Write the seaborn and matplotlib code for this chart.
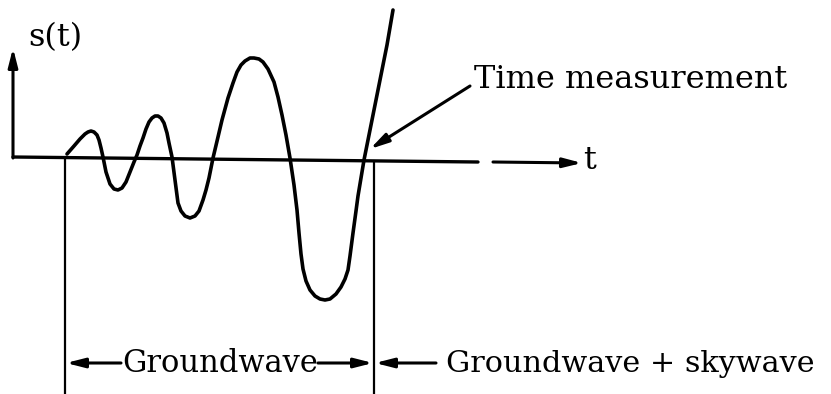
import numpy as np
import pandas as pd
import matplotlib
matplotlib.use('Agg')
import matplotlib.pyplot as plt
import seaborn as sns

# waveform s(t) (pixel units, y grows downward)
wave_x = [67, 74, 80, 85, 88, 91, 94, 97, 99, 101, 103, 106, 110, 114, 118, 122, 126, 130, 134, 137,
          140, 143, 146, 149, 152, 155, 158, 161, 164, 167, 169, 172, 175, 178, 181, 185, 190, 195, 199,
          203, 206, 209, 213, 218, 222, 228, 233, 237, 241, 245, 250, 254, 259, 263, 268, 274, 278,
          282, 286, 290, 294, 297, 299, 301, 303, 306, 310, 315, 320, 325, 330, 336, 341, 345,
          348, 350, 353, 356, 358, 361, 364, 368, 372, 380, 387, 393]
wave_y = [154, 146, 139, 134, 132, 131, 132, 135, 140, 148, 157, 172, 184, 189, 190, 188, 182, 172, 162, 155,
          146, 138, 129, 122, 118, 116, 116, 118, 123, 133, 143, 157, 180, 203, 211, 216, 218, 216, 211,
          200, 190, 178, 158, 137, 120, 98, 83, 72, 65, 61, 58, 58, 59, 62, 69, 82, 97,
          115, 135, 158, 185, 210, 233, 254, 269, 281, 290, 296, 299, 300, 299, 294, 287, 279,
          270, 256, 233, 211, 196, 178, 160, 140, 120, 80, 45, 10]

# time axis and the two boundary lines
axis_x = [13, 478]
axis_y = [157, 162]
gw_start = 65
gw_end = 374

labels = {"s": "s(t)", "t": "t", "tm": "Time measurement",
          "gw": "Groundwave", "gs": "Groundwave + skywave"}

sns.set_style("white")
plt.rcParams['font.family'] = ['DejaVu Serif']
plt.rcParams['text.color'] = 'black'

fig = plt.figure(figsize=(8.31, 3.94), dpi=100)
ax = fig.add_axes([0, 0, 1, 1])
ax.set_xlim(0, 831)
ax.set_ylim(394, 0)
ax.axis('off')

wave = pd.DataFrame({"x": wave_x, "y": wave_y})
sns.lineplot(data=wave, x="x", y="y", sort=False, color="black", lw=2.6, ax=ax,
             solid_joinstyle="round", solid_capstyle="round")
sns.lineplot(x=axis_x, y=axis_y, color="black", lw=2.4, ax=ax)

# vertical boundaries
ax.plot([gw_start, gw_start], [157, 394], color="black", lw=1.6)
ax.plot([gw_end, gw_end], [161, 394], color="black", lw=1.6)

head = dict(arrowstyle="-|>,head_length=1.1,head_width=0.28", color="black",
            lw=2.2, shrinkA=0, shrinkB=0)

# s(t) axis arrow
ax.annotate("", xy=(13, 48), xytext=(13, 158), arrowprops=head)
# t axis arrow
ax.annotate("", xy=(582, 163), xytext=(493, 162), arrowprops=head)
# time measurement pointer
ax.annotate("", xy=(370, 149), xytext=(470, 86), arrowprops=head)

# bottom arrows
ax.annotate("", xy=(gw_start + 1, 363), xytext=(121, 363), arrowprops=head)
ax.annotate("", xy=(gw_end - 1, 363), xytext=(318, 363), arrowprops=head)
ax.annotate("", xy=(gw_end + 1, 363), xytext=(436, 363), arrowprops=head)

ax.text(28, 38, labels["s"], fontsize=23, ha="left", va="center", color="black")
ax.text(583, 160, labels["t"], fontsize=23, ha="left", va="center", color="black")
ax.text(474, 79, labels["tm"], fontsize=23, ha="left", va="center", color="black")
ax.text(122, 364, labels["gw"], fontsize=22, ha="left", va="center", color="black")
ax.text(446, 364, labels["gs"], fontsize=21.8, ha="left", va="center", color="black")

fig.savefig("out.png", dpi=100, facecolor="white")
